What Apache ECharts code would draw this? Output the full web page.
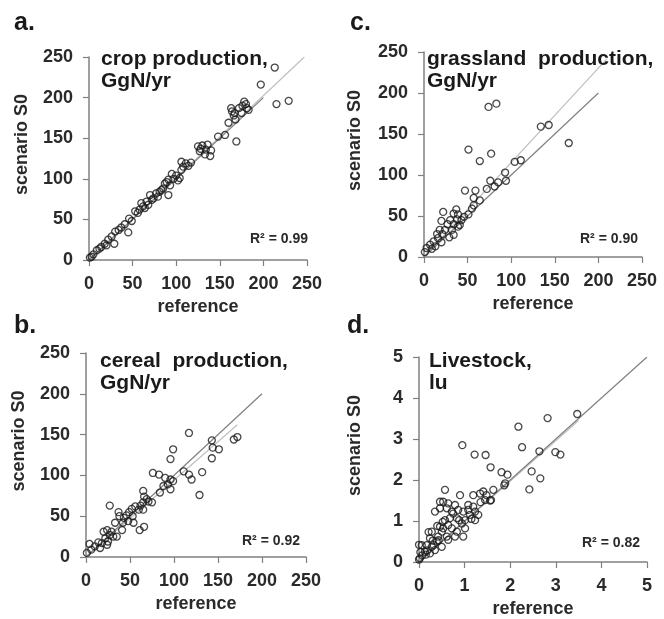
<!DOCTYPE html>
<html>
<head>
<meta charset="utf-8">
<script src="https://cdn.jsdelivr.net/npm/echarts@6/dist/echarts.min.js"></script>
<style>
html,body{margin:0;padding:0;background:#fff;}
#chart{width:664px;height:619px;}
</style>
</head>
<body>
<div id="chart"></div>
<script>
// ---- data ----
const panelLetters = ['a.', 'b.', 'c.', 'd.'];
const panelTitles = ['crop production,\nGgN/yr', 'cereal  production,\nGgN/yr', 'grassland  production,\nGgN/yr', 'Livestock,\nlu'];
const r2Labels = ['R² = 0.99', 'R² = 0.92', 'R² = 0.90', 'R² = 0.82'];
const xAxisName = 'reference';
const yAxisName = 'scenario S0';
const ticksProduction = [0, 50, 100, 150, 200, 250];
const ticksLivestock = [0, 1, 2, 3, 4, 5];

// a. crop production [reference, scenario S0]
const cropPoints = [
  [1,3],[3,4],[5,7],[9,12],[12,14],[14,16],[18,20],[20,18],[22,25],[26,29],[29,20],[30,35],[34,37],
  [37,40],[41,44],[45,34],[46,51],[49,48],[53,60],[56,58],[58,62],[60,70],[62,66],[64,64],[66,72],
  [68,68],[70,80],[72,74],[74,76],[77,82],[79,78],[81,84],[83,86],[85,88],[87,94],[89,96],[91,80],
  [91,99],[93,92],[95,106],[97,100],[100,104],[102,98],[104,101],[106,111],[106,121],[108,115],
  [111,119],[114,116],[117,120],[125,140],[127,134],[128,137],[130,141],[133,130],[134,136],[136,142],
  [139,128],[140,135],[148,152],[156,154],[160,169],[163,187],[164,183],[166,178],[167,181],[168,173],
  [169,146],[172,187],[175,181],[176,190],[178,195],[180,192],[181,187],[183,185],[197,216],[213,237],
  [215,192],[229,196]
];
// b. cereal production
const cerealPoints = [
  [1,5],[4,16],[6,9],[10,13],[14,18],[16,11],[18,17],[20,31],[22,23],[24,15],[24,33],[25,19],[27,27],
  [27,63],[29,31],[31,25],[33,42],[35,25],[37,55],[38,50],[41,33],[42,42],[43,48],[46,51],[48,44],
  [49,55],[52,59],[53,50],[54,42],[56,62],[60,58],[61,33],[62,63],[65,58],[65,67],[65,81],[66,37],
  [66,74],[69,71],[71,68],[75,67],[76,103],[83,101],[84,79],[88,87],[90,97],[93,89],[96,83],[96,95],
  [96,120],[99,93],[99,132],[111,105],[117,101],[117,152],[120,95],[129,76],[132,104],[143,121],
  [143,143],[144,134],[151,132],[168,144],[172,147]
];
// c. grassland production
const grassPoints = [
  [1,6],[3,11],[7,15],[9,10],[11,19],[13,13],[15,28],[16,23],[18,33],[20,18],[20,44],[21,28],[22,55],
  [24,33],[27,40],[29,24],[30,45],[32,33],[34,27],[34,40],[34,53],[37,58],[38,46],[39,37],[39,52],
  [41,39],[43,45],[46,49],[47,81],[51,52],[51,131],[55,59],[57,63],[57,72],[59,81],[64,69],[64,117],
  [72,83],[74,183],[76,93],[77,126],[81,86],[83,187],[85,91],[93,103],[94,93],[104,116],[111,118],
  [134,159],[143,161],[166,139]
];
// d. livestock
const livestockPoints = [
  [0.00,0.06],[0.02,0.09],[0.03,0.24],[0.06,0.41],[0.00,0.42],[0.07,0.16],[0.13,0.25],[0.15,0.18],
  [0.17,0.41],[0.18,0.28],[0.21,0.73],[0.24,0.21],[0.24,0.58],[0.28,0.37],[0.28,0.74],[0.30,0.52],
  [0.32,0.41],[0.35,0.29],[0.35,1.23],[0.39,0.50],[0.40,0.88],[0.42,0.62],[0.43,0.53],[0.46,0.86],
  [0.46,1.31],[0.46,1.47],[0.50,0.37],[0.50,0.74],[0.52,0.98],[0.53,0.82],[0.53,1.47],[0.57,1.02],
  [0.57,1.76],[0.61,0.62],[0.61,1.31],[0.64,0.54],[0.64,0.90],[0.64,1.43],[0.68,1.07],[0.72,0.82],
  [0.72,1.23],[0.75,1.18],[0.79,0.62],[0.79,1.39],[0.83,0.74],[0.83,1.07],[0.86,1.27],[0.88,1.02],
  [0.90,1.63],[0.94,0.94],[0.95,2.85],[0.97,0.62],[0.97,1.23],[1.01,0.82],[1.01,1.02],[1.08,1.27],
  [1.08,1.39],[1.12,1.15],[1.15,1.05],[1.19,1.35],[1.19,1.63],[1.22,2.62],[1.23,1.02],[1.23,1.23],
  [1.30,1.15],[1.34,1.67],[1.35,1.46],[1.41,1.72],[1.45,1.51],[1.46,2.61],[1.48,1.63],[1.56,1.50],
  [1.57,2.31],[1.58,1.51],[1.63,1.76],[1.81,2.19],[1.87,1.87],[1.89,1.92],[1.94,2.13],[2.18,3.30],
  [2.26,2.80],[2.42,1.77],[2.47,2.21],[2.64,2.70],[2.66,2.04],[2.82,3.51],[2.99,2.68],[3.10,2.62],
  [3.47,3.61]
];
// reference (1:1) lines and fitted trend lines, as end points in data units
const oneToOneLines = [ [[0,0],[200,200]], [[0,0],[200,200]], [[0,0],[200,200]], [[0,0],[5,5]] ];
const trendLines = [ [[0,0],[247,250]], [[0,0],[172,162]], [[0,0],[210,242]], [[0,0],[3.5,3.45]] ];

// ---- layout (panel order: a, b, c, d) ----
const gridBoxes = [
  {left: 89,  top: 57,  width: 218, height: 203},
  {left: 86,  top: 353, width: 220, height: 204},
  {left: 424, top: 52,  width: 218, height: 205},
  {left: 419, top: 357, width: 228, height: 205}
];
const letterPos = [[14,11],[14,314],[350,11],[347,314]];
const titlePos = [[101,48],[100,350],[427,48],[429,350]];
const r2Pos = [[250,232],[242,534],[580,232],[582,536]];
const yNameGap = [58, 58, 60, 55];

const FONT = '"Liberation Sans", Arial, Helvetica, sans-serif';
const pointSets = [cropPoints, cerealPoints, grassPoints, livestockPoints];
const tickSets = [ticksProduction, ticksProduction, ticksProduction, ticksLivestock];

const axisLineStyle = {show: true, lineStyle: {color: '#808080', width: 1.5}};
const axisTickStyle = {show: true, inside: false, length: 6, lineStyle: {color: '#808080', width: 1.2}};

const grid = [], xAxis = [], yAxis = [], series = [], title = [];
for (let i = 0; i < 4; i++) {
  const t = tickSets[i];
  const step = t[1] - t[0];
  grid.push(Object.assign({containLabel: false}, gridBoxes[i]));
  xAxis.push({
    gridIndex: i, type: 'value', min: t[0], max: t[t.length - 1], interval: step,
    axisLine: axisLineStyle, axisTick: axisTickStyle, splitLine: {show: false},
    axisLabel: {margin: 15, fontSize: 18, fontWeight: 'bold', color: '#2a2a2a', fontFamily: FONT},
    name: xAxisName, nameLocation: 'middle', nameGap: 38,
    nameTextStyle: {fontSize: 18, fontWeight: 'bold', color: '#2a2a2a', fontFamily: FONT}
  });
  yAxis.push({
    gridIndex: i, type: 'value', min: t[0], max: t[t.length - 1], interval: step,
    axisLine: axisLineStyle, axisTick: axisTickStyle, splitLine: {show: false},
    axisLabel: {margin: 16, fontSize: 18, fontWeight: 'bold', color: '#2a2a2a', fontFamily: FONT},
    name: yAxisName, nameLocation: 'middle', nameGap: yNameGap[i],
    nameTextStyle: {fontSize: 18, fontWeight: 'bold', color: '#2a2a2a', fontFamily: FONT, padding: [0, 0, 0, 28]}
  });
  series.push({
    type: 'line', xAxisIndex: i, yAxisIndex: i, data: trendLines[i], symbol: 'none',
    lineStyle: {color: '#c0c0c0', width: 1.2}, silent: true, z: 1
  });
  series.push({
    type: 'line', xAxisIndex: i, yAxisIndex: i, data: oneToOneLines[i], symbol: 'none',
    lineStyle: {color: '#808080', width: 1.2}, silent: true, z: 2
  });
  series.push({
    type: 'scatter', xAxisIndex: i, yAxisIndex: i, data: pointSets[i],
    symbol: 'circle', symbolSize: 7,
    itemStyle: {color: 'rgba(255,255,255,0)', borderColor: '#1a1a1a', borderWidth: 1.3}, z: 3
  });
  title.push({
    text: panelLetters[i], left: letterPos[i][0], top: letterPos[i][1], padding: 0,
    textStyle: {fontSize: 25, fontWeight: 'bold', color: '#1a1a1a', fontFamily: FONT}
  });
  title.push({
    text: panelTitles[i], left: titlePos[i][0], top: titlePos[i][1], padding: 0,
    textStyle: {fontSize: 21, fontWeight: 'bold', color: '#1a1a1a', fontFamily: FONT, lineHeight: 22}
  });
  title.push({
    text: r2Labels[i], left: r2Pos[i][0], top: r2Pos[i][1], padding: 0,
    textStyle: {fontSize: 14, fontWeight: 'bold', color: '#2a2a2a', fontFamily: FONT}
  });
}

const chart = echarts.init(document.getElementById('chart'), null, {renderer: 'canvas'});
chart.setOption({
  animation: false,
  backgroundColor: '#fff',
  title, grid, xAxis, yAxis, series
});
</script>
</body>
</html>
